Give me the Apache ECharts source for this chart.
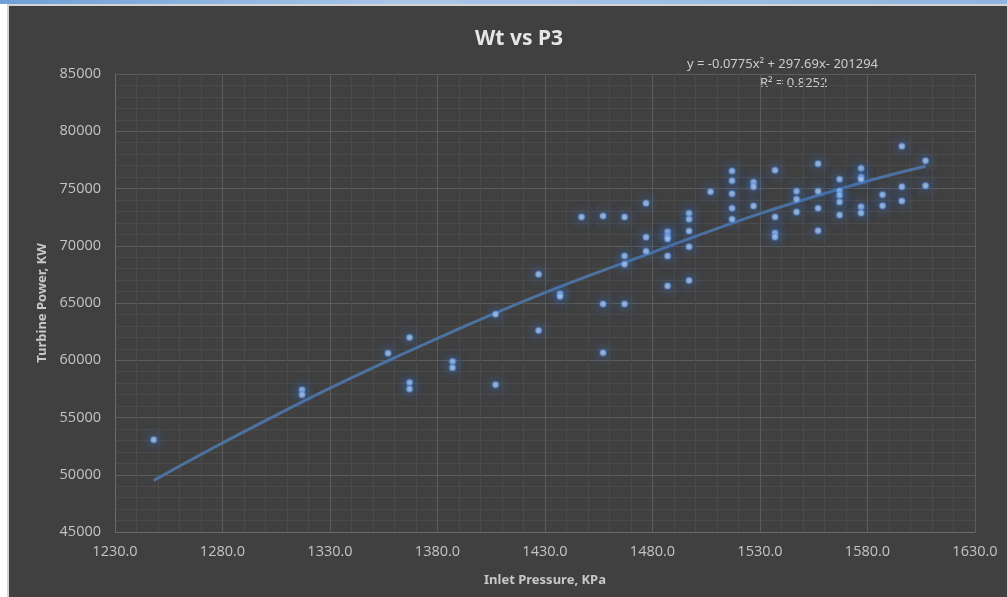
<!DOCTYPE html>
<html>
<head>
<meta charset="utf-8">
<title>Wt vs P3</title>
<script src="https://cdn.jsdelivr.net/npm/echarts@6/dist/echarts.min.js"></script>
<style>
  html, body { margin: 0; padding: 0; width: 1007px; height: 597px; overflow: hidden; background: #ffffff; }
  #strip { position: absolute; left: 0; top: 0; width: 1007px; height: 4px; background: linear-gradient(90deg, #6f9fd6, #a9c6e8 40%, #8fb4de); }
  #frame { position: absolute; left: 7px; top: 4px; width: 1000px; height: 593px; background: #d4d4d4; }
  #chart { position: absolute; left: 9px; top: 6px; width: 998px; height: 591px; }
</style>
</head>
<body>
<div id="strip"></div>
<div id="frame"></div>
<div id="chart"></div>
<script>
// measured points (Inlet Pressure KPa, Turbine Power KW)
const pressure = [
  1248,
  1317, 1317,
  1357,
  1367, 1367, 1367,
  1387, 1387,
  1407, 1407,
  1427, 1427,
  1437, 1437,
  1447,
  1457, 1457, 1457,
  1467, 1467, 1467, 1467,
  1477, 1477, 1477,
  1487, 1487, 1487, 1487, 1487,
  1497, 1497, 1497, 1497, 1497,
  1507,
  1517, 1517, 1517, 1517, 1517,
  1527, 1527, 1527,
  1537, 1537, 1537, 1537,
  1547, 1547, 1547,
  1557, 1557, 1557, 1557,
  1567, 1567, 1567, 1567, 1567,
  1577, 1577, 1577, 1577, 1577,
  1587, 1587,
  1596, 1596, 1596,
  1607, 1607
]
const power = [
  53050,
  57420, 56980,
  60620,
  61980, 58050, 57480,
  59890, 59340,
  64020, 57850,
  67510, 62590,
  65800, 65560,
  72510,
  72600, 64920, 60650,
  72510, 69110, 68390, 64920,
  73710, 70750, 69530,
  71230, 70800, 70590, 69110, 66490,
  72840, 72310, 71290, 69920, 66960,
  74720,
  76530, 75680, 74550, 73270, 72310,
  75540, 75160, 73470,
  76590, 72510, 71120, 70770,
  74760, 74060, 72950,
  77170, 74760, 73270, 71320,
  75800, 74780, 74410, 73820, 72690,
  76760, 75980, 75800, 73410, 72860,
  74460, 73500,
  78680, 75160, 73910,
  77430, 75250
]

// polynomial trendline, points
const trendX = [1248, 1280, 1330, 1380, 1430, 1480, 1530, 1580, 1607]
const trendY = [49500, 52770, 57570, 61920, 65900, 69420, 72800, 75650, 76950]

const trendLabel = 'y = -0.0775x\u00b2 + 297.69x- 201294'
const r2Label = 'R\u00b2 = 0.8252'

const chart = echarts.init(document.getElementById('chart'))

const labelFont = '"Open Sans", "Noto Sans", sans-serif'
const boldFont = '"Noto Sans", "Open Sans", sans-serif'

chart.setOption({
  backgroundColor: '#404040',
  animation: false,
  title: {
    text: 'Wt vs P3',
    left: 505,
    top: 18,
    textAlign: 'center',
    textStyle: {
      color: '#e6e6e6',
      fontFamily: boldFont,
      fontWeight: 'bold',
      fontSize: 21
    }
  },
  grid: {
    left: 106,
    right: 32,
    top: 68,
    bottom: 65
  },
  xAxis: {
    type: 'value',
    min: 1230,
    max: 1630,
    interval: 50,
    name: 'Inlet Pressure, KPa',
    nameLocation: 'middle',
    nameGap: 42,
    nameTextStyle: {
      color: '#c8c8c8',
      fontFamily: boldFont,
      fontWeight: 'bold',
      fontSize: 13
    },
    axisLine: { show: true, lineStyle: { color: '#6a6a6a', width: 1 } },
    axisTick: { show: false },
    axisLabel: {
      color: '#c4c4c4',
      fontFamily: labelFont,
      fontSize: 14.5,
      margin: 12,
      formatter: function (v) { return v.toFixed(1) }
    },
    splitLine: { show: true, lineStyle: { color: '#5c5c5c', width: 1 } },
    minorTick: { show: false, splitNumber: 5 },
    minorSplitLine: { show: true, lineStyle: { color: '#4b4b4b', width: 1 } }
  },
  yAxis: {
    type: 'value',
    min: 45000,
    max: 85000,
    interval: 5000,
    name: 'Turbine Power, KW',
    nameLocation: 'middle',
    nameGap: 64,
    nameTextStyle: {
      color: '#c8c8c8',
      fontFamily: boldFont,
      fontWeight: 'bold',
      fontSize: 13
    },
    axisLine: { show: true, lineStyle: { color: '#6a6a6a', width: 1 } },
    axisTick: { show: false },
    axisLabel: {
      color: '#c4c4c4',
      fontFamily: labelFont,
      fontSize: 14.5,
      margin: 14,
      formatter: function (v) { return String(v) }
    },
    splitLine: { show: true, lineStyle: { color: '#5c5c5c', width: 1 } },
    minorTick: { show: false, splitNumber: 5 },
    minorSplitLine: { show: true, lineStyle: { color: '#4b4b4b', width: 1 } }
  },
  graphic: [
    {
      type: 'text',
      left: 678,
      top: 52,
      style: {
        text: trendLabel,
        fill: '#cccccc',
        font: '13px "Noto Sans", sans-serif'
      }
    },
    {
      type: 'text',
      left: 751,
      top: 71,
      style: {
        text: r2Label,
        fill: '#cccccc',
        font: '13px "Noto Sans", sans-serif'
      }
    }
  ],
  series: [
    {
      name: 'Trend',
      type: 'line',
      data: trendX.map(function (x, i) { return [x, trendY[i]] }),
      smooth: 0.4,
      showSymbol: false,
      lineStyle: { color: '#4e72a0', width: 3 },
      z: 2
    },
    {
      name: 'Wt',
      type: 'scatter',
      data: pressure.map(function (x, i) { return [x, power[i]] }),
      symbolSize: 6,
      itemStyle: {
        color: '#b7cff0',
        borderColor: 'rgba(80, 135, 215, 0.55)',
        borderWidth: 2,
        shadowBlur: 12,
        shadowColor: 'rgba(60, 125, 225, 1)'
      },
      z: 3
    }
  ]
})
</script>
</body>
</html>
